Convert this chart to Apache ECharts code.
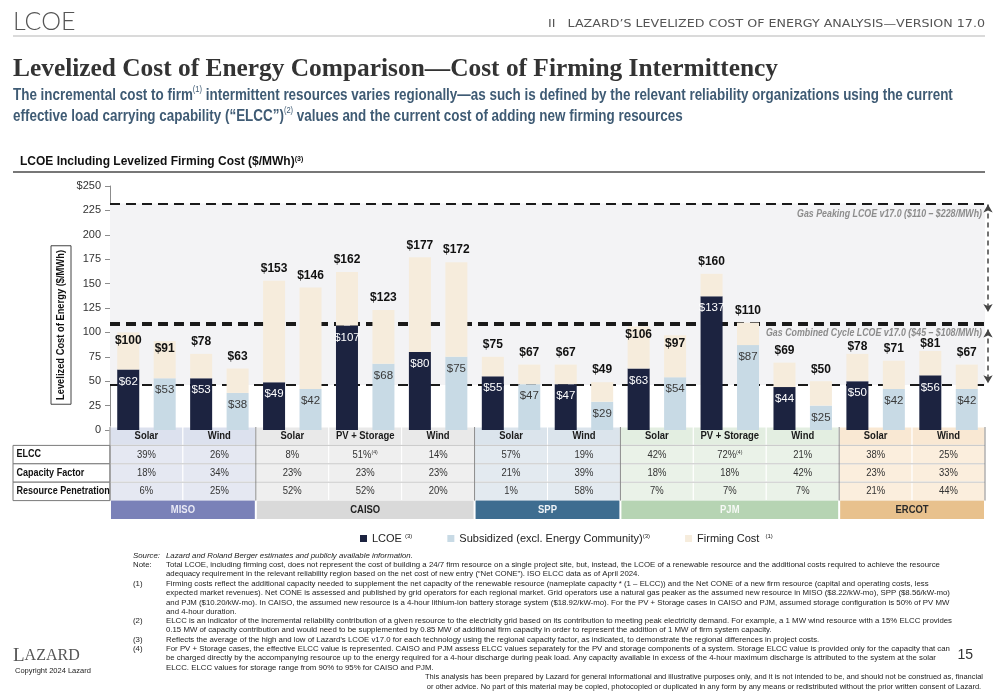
<!DOCTYPE html>
<html><head><meta charset="utf-8">
<script src="https://cdn.jsdelivr.net/npm/echarts@6/dist/echarts.min.js"></script>
<style>html,body{margin:0;padding:0;background:#fff}#c{width:1000px;height:694px}</style>
</head><body><div id="c"></div>
<script>
// ---------------- DATA ----------------
const regions = ['MISO', 'CAISO', 'SPP', 'PJM', 'ERCOT'];
const regionSpans = [2, 3, 2, 3, 2];
const technologies = ['Solar', 'Wind', 'Solar', 'PV + Storage', 'Wind', 'Solar', 'Wind', 'Solar', 'PV + Storage', 'Wind', 'Solar', 'Wind'];
const lcoe = [62, 53, 49, 107, 80, 55, 47, 63, 137, 44, 50, 56];
const lcoeTotal = [100, 78, 153, 162, 177, 75, 67, 106, 160, 69, 78, 81];
const subsidized = [53, 38, 42, 68, 75, 47, 29, 54, 87, 25, 42, 42];
const subsidizedTotal = [91, 63, 146, 123, 172, 67, 49, 97, 110, 50, 71, 67];
const elcc = ['39%', '26%', '8%', '51%', '14%', '57%', '19%', '42%', '72%', '21%', '38%', '25%'];
const elccNote = ['', '', '', '(4)', '', '', '', '', '(4)', '', '', ''];
const capacityFactor = ['18%', '34%', '23%', '23%', '23%', '21%', '39%', '18%', '18%', '42%', '23%', '33%'];
const resourcePenetration = ['6%', '25%', '52%', '52%', '20%', '1%', '58%', '7%', '7%', '7%', '21%', '44%'];
const rowLabels = ['ELCC', 'Capacity Factor', 'Resource Penetration'];
const gasPeakingLines = [232, 110];      // as drawn
const gasCombinedLines = [108, 46];      // as drawn
const yMax = 250, yStep = 25;

// ---------------- STYLE ----------------
const SANS = '"Liberation Sans",Arial,sans-serif';
const SERIF = '"Liberation Serif",serif';
const C_LCOE = '#1c2340', C_SUB = '#c8dae5', C_FIRM = '#f6ecdc';
const regionHeadFill = ['#dce1ee', '#e9e9e9', '#dbe4ec', '#e3eee1', '#f9e8d3'];
const regionCellFill = ['#e5e8f2', '#efefef', '#e3eaf0', '#eaf2e8', '#fbeedd'];
const regionBarFill = ['#7a81b8', '#d9d9d9', '#3e6d90', '#b6d4b3', '#e8c18d'];
const regionBarText = ['#e9e9f5', '#222222', '#eef3f7', '#f6f9f5', '#2a2a2a'];

const mctx = document.createElement('canvas').getContext('2d');
function fitScale(text, font, target) { mctx.font = font; return target / mctx.measureText(text).width; }

// ---------------- BUILD ----------------
const regionOf = [];
regions.forEach((r, i) => { for (let k = 0; k < regionSpans[i]; k++) regionOf.push(i); });
const slots = [], lcoeSlots = [], subSlots = [], totals = [], firming = [];
technologies.forEach((t, i) => {
  slots.push(regions[regionOf[i]] + ' ' + t + ' LCOE', regions[regionOf[i]] + ' ' + t + ' Subsidized');
  lcoeSlots.push(lcoe[i], '-');
  subSlots.push('-', subsidized[i]);
  totals.push(lcoeTotal[i], subsidizedTotal[i]);
  firming.push(lcoeTotal[i] - lcoe[i], subsidizedTotal[i] - subsidized[i]);
});
const ccLabelFirstSlot = 18; // slots lying under the combined-cycle annotation
const firmingData = firming.map((v, k) => {
  const t = totals[k];
  if (t > 85 && t < 108) return { value: v, label: { position: 'insideTop', distance: 2 } };
  if (k >= ccLabelFirstSlot && t > 74) return { value: v, label: { distance: 1 } };
  return v;
});

const cells = [];
let col = 0;
regions.forEach((r, ri) => {
  const start = col;
  for (let j = 0; j < regionSpans[ri]; j++) {
    const c = col + j;
    cells.push({ kind: 'head', value: [c, c + 1, 0], text: technologies[c], region: ri });
    cells.push({ kind: 'val', value: [c, c + 1, 1], text: elcc[c] + (elccNote[c] ? '{sup|' + elccNote[c] + '}' : ''), region: ri });
    cells.push({ kind: 'val', value: [c, c + 1, 2], text: capacityFactor[c], region: ri });
    cells.push({ kind: 'val', value: [c, c + 1, 3], text: resourcePenetration[c], region: ri });
  }
  cells.push({ kind: 'region', value: [start, start + regionSpans[ri], 4], text: r, region: ri });
  col += regionSpans[ri];
});
[1, 2, 3].forEach(r => cells.push({ kind: 'hline', value: [0, technologies.length, r] }));
let edge = 0;
cells.push({ kind: 'sep', value: [0, 0, 0] });
regionSpans.forEach(s => { edge += s; cells.push({ kind: 'sep', value: [edge, edge, 0] }); });
const labelColStart = -1.33;
rowLabels.forEach((l, i) => cells.push({ kind: 'label', value: [labelColStart, 0, i + 1], text: l }));

function renderTable(params, api) {
  const c = cells[params.dataIndex];
  const x0 = api.value(0), x1 = api.value(1), r = api.value(2);
  if (c.kind === 'sep') {
    const a = api.coord([x0, 0]), b = api.coord([x0, 4]);
    return { type: 'line', shape: { x1: a[0], y1: a[1], x2: b[0], y2: b[1] }, style: { stroke: '#8a8a8a', lineWidth: 1 }, z2: 10 };
  }
  if (c.kind === 'hline') {
    const a = api.coord([x0, r]), b = api.coord([x1, r]);
    return { type: 'line', shape: { x1: a[0], y1: a[1], x2: b[0], y2: b[1] }, style: { stroke: '#c6c6c6', lineWidth: 1 }, z2: 9 };
  }
  const a = api.coord([x0, r]), b = api.coord([x1, r + 1]);
  let fill = '#fff', stroke = '#ffffff', txtFill = '#333', weight = 'normal', pos = 'inside', inset = 0, fs = 11;
  if (c.kind === 'head') { fill = regionHeadFill[c.region]; txtFill = '#1a1a1a'; weight = 'bold'; }
  if (c.kind === 'val') { fill = regionCellFill[c.region]; }
  if (c.kind === 'region') { fill = regionBarFill[c.region]; txtFill = regionBarText[c.region]; weight = 'bold'; inset = 1; stroke = null; }
  if (c.kind === 'label') { fill = '#ffffff'; stroke = '#7a7a7a'; txtFill = '#111'; weight = 'bold'; pos = 'insideLeft'; fs = 10.5; }
  return {
    type: 'rect',
    shape: { x: a[0] + inset, y: a[1], width: b[0] - a[0] - 2 * inset, height: b[1] - a[1] },
    style: { fill: fill, stroke: stroke, lineWidth: 1 },
    textContent: {
      scaleX: 0.86,
      style: {
        text: c.text, fill: txtFill, fontSize: fs, fontWeight: weight, fontFamily: SANS,
        rich: { sup: { fontSize: 6, fill: txtFill, verticalAlign: 'top', fontFamily: SANS } }
      }
    },
    textConfig: { position: pos, distance: 4 }
  };
}

// ---------------- TEXT ----------------
const footLabelX = 133, footTextX = 166, footLH = 9.2;
const footnotes = [
  { label: 'Source:', y: 556, italic: true, lines: ['Lazard and Roland Berger estimates and publicly available information.'] },
  { label: 'Note:', y: 565, lines: ['Total LCOE, including firming cost, does not represent the cost of building a 24/7 firm resource on a single project site, but, instead, the LCOE of a renewable resource and the additional costs required to achieve the resource',
    'adequacy requirement in the relevant reliability region based on the net cost of new entry (“Net CONE”). ISO ELCC data as of April 2024.'] },
  { label: '(1)', y: 584, lines: ['Firming costs reflect the additional capacity needed to supplement the net capacity of the renewable resource (nameplate capacity * (1 – ELCC)) and the Net CONE of a new firm resource (capital and operating costs, less',
    'expected market revenues). Net CONE is assessed and published by grid operators for each regional market. Grid operators use a natural gas peaker as the assumed new resource in MISO ($8.22/kW-mo), SPP ($8.56/kW-mo)',
    'and PJM ($10.20/kW-mo). In CAISO, the assumed new resource is a 4-hour lithium-ion battery storage system ($18.92/kW-mo). For the PV + Storage cases in CAISO and PJM, assumed storage configuration is 50% of PV MW',
    'and 4-hour duration.'] },
  { label: '(2)', y: 621, lines: ['ELCC is an indicator of the incremental reliability contribution of a given resource to the electricity grid based on its contribution to meeting peak electricity demand. For example, a 1 MW wind resource with a 15% ELCC provides',
    '0.15 MW of capacity contribution and would need to be supplemented by 0.85 MW of additional firm capacity in order to represent the addition of 1 MW of firm system capacity.'] },
  { label: '(3)', y: 640, lines: ['Reflects the average of the high and low of Lazard’s LCOE v17.0 for each technology using the regional capacity factor, as indicated, to demonstrate the regional differences in project costs.'] },
  { label: '(4)', y: 649, lines: ['For PV + Storage cases, the effective ELCC value is represented. CAISO and PJM assess ELCC values separately for the PV and storage components of a system. Storage ELCC value is provided only for the capacity that can',
    'be charged directly by the accompanying resource up to the energy required for a 4-hour discharge during peak load. Any capacity available in excess of the 4-hour maximum discharge is attributed to the system at the solar',
    'ELCC. ELCC values for storage range from 90% to 95% for CAISO and PJM.'] }
];
const disclaimer = ['This analysis has been prepared by Lazard for general informational and illustrative purposes only, and it is not intended to be, and should not be construed as, financial',
  'or other advice. No part of this material may be copied, photocopied or duplicated in any form by any means or redistributed without the prior written consent of Lazard.'];

const headerText = 'II   LAZARD’S LEVELIZED COST OF ENERGY ANALYSIS—VERSION 17.0';
const titleText = 'Levelized Cost of Energy Comparison—Cost of Firming Intermittency';
const sub1 = 'The incremental cost to firm(1) intermittent resources varies regionally—as such is defined by the relevant reliability organizations using the current';
const gasPeakText = 'Gas Peaking LCOE v17.0 ($110 – $228/MWh)';
const gasCCText = 'Gas Combined Cycle LCOE v17.0 ($45 – $108/MWh)';
const yAxisTitle = 'Levelized Cost of Energy ($/MWh)';

const F_HEADER = '10px "DejaVu Sans", sans-serif';
const F_TITLE = 'bold 25px ' + SERIF;
const F_SUB = 'bold 16px ' + SANS;
const F_FOOT = '8px ' + SANS;
const F_GAS = 'italic bold 11px ' + SANS;
const F_YT = 'bold 11px ' + SANS;
const sHeader = fitScale(headerText, F_HEADER, 437);
const sTitle = fitScale(titleText, F_TITLE, 765);
const sSub = fitScale(sub1, F_SUB, 947);
const sFoot = fitScale(footnotes[3].lines[0], F_FOOT, 786);
const sDisc = fitScale(disclaimer[0], F_FOOT, 558);
const sGas = fitScale(gasCCText, F_GAS, 216);
const sYT = fitScale(yAxisTitle, F_YT, 150);

const graphics = [
  { type: 'text', x: 13, y: 22, style: { text: 'LCOE', font: '300 25px Lato, "Liberation Sans", sans-serif', fill: '#555', verticalAlign: 'middle' } },
  { type: 'text', x: 985, y: 24, scaleX: sHeader, style: { text: headerText, font: F_HEADER, fill: '#555', align: 'right', verticalAlign: 'middle' } },
  { type: 'line', shape: { x1: 13, y1: 36, x2: 985, y2: 36 }, style: { stroke: '#dadada', lineWidth: 2 } },
  { type: 'text', x: 13, y: 70, scaleX: sTitle, style: { text: titleText, font: F_TITLE, fill: '#333', verticalAlign: 'middle' } },
  { type: 'text', x: 13, y: 85, scaleX: sSub, style: {
      text: 'The incremental cost to firm{sup|(1)} intermittent resources varies regionally—as such is defined by the relevant reliability organizations using the current\neffective load carrying capability (“ELCC”){sup|(2)} values and the current cost of adding new firming resources',
      font: F_SUB, fill: '#3f5b74', lineHeight: 21, verticalAlign: 'top',
      rich: { sup: { fontSize: 9, fontWeight: 'normal', fill: '#3f5b74', verticalAlign: 'top', lineHeight: 21, fontFamily: SANS } } } },
  { type: 'text', x: 20, y: 162, style: { text: 'LCOE Including Levelized Firming Cost ($/MWh){sup|(3)}', font: 'bold 12px ' + SANS, fill: '#111', verticalAlign: 'middle',
      rich: { sup: { fontSize: 7, fontWeight: 'bold', fill: '#111', verticalAlign: 'top', fontFamily: SANS } } } },
  { type: 'line', shape: { x1: 13, y1: 172, x2: 985, y2: 172 }, style: { stroke: '#4a4a4a', lineWidth: 1.5 } },
  { type: 'text', x: 61, y: 325, rotation: Math.PI / 2, scaleX: sYT, style: { text: yAxisTitle, font: F_YT, fill: '#111', align: 'center', verticalAlign: 'middle', borderColor: '#333', borderWidth: 1, padding: [5, 5, 4, 5] } },
  { type: 'text', z: 100, x: 982, y: 214, scaleX: sGas, style: { text: gasPeakText, font: F_GAS, fill: '#8c8c8c', align: 'right', verticalAlign: 'middle' } },
  { type: 'text', z: 100, x: 982, y: 333, scaleX: sGas, style: { text: gasCCText, font: F_GAS, fill: '#8c8c8c', align: 'right', verticalAlign: 'middle' } },
  { type: 'text', x: 13, y: 656, style: { text: 'L{s|AZARD}', font: '19px ' + SERIF, fill: '#555', verticalAlign: 'middle', rich: { s: { fontSize: 16, fill: '#555', fontFamily: SERIF } } } },
  { type: 'text', x: 15, y: 671, style: { text: 'Copyright 2024 Lazard', font: '7.5px ' + SANS, fill: '#222', verticalAlign: 'middle' } },
  { type: 'text', x: 973, y: 655, style: { text: '15', font: '14px ' + SANS, fill: '#333', align: 'right', verticalAlign: 'middle' } }
];
footnotes.forEach(f => {
  const font = (f.italic ? 'italic ' : '') + F_FOOT;
  graphics.push({ type: 'text', x: footLabelX, y: f.y, scaleX: sFoot, style: { text: f.label, font: font, fill: '#222', verticalAlign: 'middle' } });
  graphics.push({ type: 'text', x: footTextX, y: f.y - footLH / 2, scaleX: sFoot, style: { text: f.lines.join('\n'), font: font, fill: '#222', lineHeight: footLH, verticalAlign: 'top' } });
});
graphics.push({ type: 'text', x: 704, y: 672, scaleX: sDisc, style: { text: disclaimer.join('\n'), font: F_FOOT, fill: '#222', align: 'center', lineHeight: 10, verticalAlign: 'top' } });

// ---------------- CHART ----------------
const chart = echarts.init(document.getElementById('c'), null, { renderer: 'canvas' });
const dash = { type: [10, 6], color: '#1a1a1a', width: 2 };
const arrowLine = { type: [5, 4], color: '#444', width: 1.5 };
chart.setOption({
  animation: false,
  backgroundColor: '#ffffff',
  textStyle: { fontFamily: SANS },
  grid: [
    { left: 110, right: 15, top: 186, height: 244 },
    { left: 13, right: 15, top: 427, height: 92 }
  ],
  xAxis: [
    { type: 'category', gridIndex: 0, data: slots, axisLine: { show: false }, axisTick: { show: false }, axisLabel: { show: false } },
    { type: 'value', gridIndex: 1, min: labelColStart, max: technologies.length, show: false }
  ],
  yAxis: [
    { type: 'value', gridIndex: 0, min: 0, max: yMax, interval: yStep,
      axisLine: { show: true, lineStyle: { color: '#8c8c8c', width: 1 } },
      axisTick: { show: true, length: 5, lineStyle: { color: '#8c8c8c' } },
      splitLine: { show: false },
      axisLabel: { color: '#333', fontSize: 11, margin: 9, formatter: v => v === yMax ? '$' + v : String(v) } },
    { type: 'value', gridIndex: 1, min: 0, max: 5, inverse: true, show: false }
  ],
  legend: {
    data: ['LCOE', 'Subsidized (excl. Energy Community)', 'Firming Cost'],
    left: 355, top: 528, itemWidth: 7, itemHeight: 7, itemGap: 35, icon: 'rect',
    formatter: n => n === 'LCOE' ? 'LCOE {sup|(3)}' : (n === 'Firming Cost' ? 'Firming Cost  {sup|(1)}' : n + '{sup|(3)}'),
    textStyle: { fontSize: 11, color: '#222', rich: { sup: { fontSize: 6, color: '#222', verticalAlign: 'top' } } }
  },
  series: [
    { name: 'LCOE', type: 'bar', stack: 'total', barWidth: 22, data: lcoeSlots, itemStyle: { color: C_LCOE }, z: 3,
      label: { show: true, position: 'insideTop', distance: 6, color: '#ffffff', fontSize: 11.5, formatter: p => '$' + p.value } },
    { name: 'Subsidized (excl. Energy Community)', type: 'bar', stack: 'total', barWidth: 22, data: subSlots, itemStyle: { color: C_SUB }, z: 3,
      label: { show: true, position: 'insideTop', distance: 6, color: '#3a3a3a', fontSize: 11.5, formatter: p => '$' + p.value } },
    { name: 'Firming Cost', type: 'bar', stack: 'total', barWidth: 22, data: firmingData, itemStyle: { color: C_FIRM }, z: 3,
      label: { show: true, position: 'top', distance: 6, color: '#111', fontWeight: 'bold', fontSize: 12, formatter: p => '$' + totals[p.dataIndex] } },
    { name: 'ref', type: 'line', data: [], silent: true, z: 1,
      markArea: { silent: true, z: 0.5, itemStyle: { color: '#f3f3f5' }, data: [[{ yAxis: gasCombinedLines[1] }, { yAxis: gasPeakingLines[0] }]] },
      markLine: { silent: true, z: 1, symbol: 'none', label: { show: false },
        data: [
          { yAxis: gasPeakingLines[0], lineStyle: dash },
          { yAxis: gasPeakingLines[1], lineStyle: dash },
          { yAxis: gasCombinedLines[0], lineStyle: dash },
          { yAxis: gasCombinedLines[1], lineStyle: dash },
          [{ x: 988, yAxis: gasPeakingLines[0] - 1, symbol: 'arrow', symbolSize: [7, 8], lineStyle: arrowLine }, { x: 988, yAxis: gasPeakingLines[1] + 11, symbol: 'arrow', symbolSize: [7, 8] }],
          [{ x: 988, yAxis: gasCombinedLines[0] - 5, symbol: 'arrow', symbolSize: [7, 8], lineStyle: arrowLine }, { x: 988, yAxis: gasCombinedLines[1] + 2, symbol: 'arrow', symbolSize: [7, 8] }]
        ] } },
    { name: 'table', type: 'custom', xAxisIndex: 1, yAxisIndex: 1, silent: true, clip: false,
      encode: { x: [0, 1], y: 2 }, data: cells.map(c => c.value), renderItem: renderTable }
  ],
  graphic: graphics
});
</script></body></html>
